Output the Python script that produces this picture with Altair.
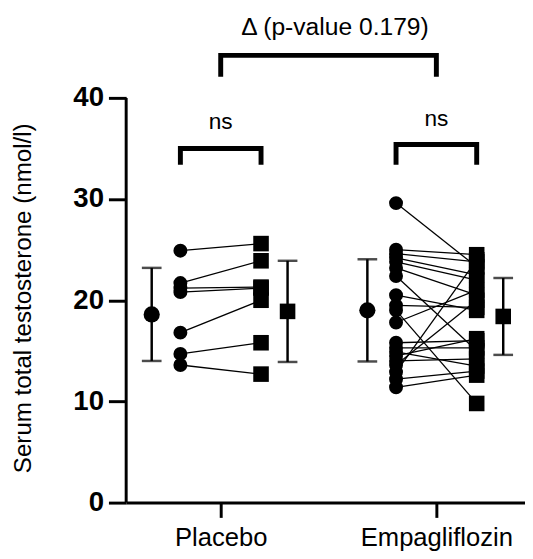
import altair as alt
import pandas as pd

FONT = "Liberation Sans, Arial, sans-serif"

# ---- data ----
groups = ["Placebo", "Empagliflozin"]
placebo_pre = [24.9, 21.7, 21.2, 20.8, 16.8, 14.7, 13.6]
placebo_post = [25.6, 23.9, 21.3, 21.2, 20.0, 15.8, 12.7]
empa_pre = [29.6, 25.0, 24.6, 24.2, 23.8, 23.2, 22.4, 20.5, 19.5, 19.0,
            17.8, 15.8, 15.3, 14.9, 14.5, 14.0, 13.6, 12.9, 12.2, 11.4]
empa_post = [23.3, 24.5, 23.8, 22.5, 22.0, 20.5, 15.0, 19.0, 19.3, 9.8,
             21.0, 16.0, 15.3, 13.5, 16.2, 14.2, 20.0, 24.0, 13.0, 12.6]
mean_pre = [18.6, 19.0]
sd_pre = [4.6, 5.05]
mean_post = [18.9, 18.4]
sd_post = [5.0, 3.8]
y_ticks = [0, 10, 20, 30, 40]
ns_labels = ["ns", "ns"]
delta_label = "\u0394 (p-value 0.179)"

# annotation levels (y units)
big_bracket = [44.2, 42.1]          # top, leg end
small_brackets_top = [35.0, 35.4]
small_brackets_leg = [33.4, 33.4]
ns_level = [37.6, 37.9]
delta_level = 47.0
delta_pos = 0.53

# slot offsets within each group (group units)
slot = {"mean_pre": -0.32, "pre": -0.187, "post": 0.187, "mean_post": 0.31}

# ---- build tables ----
rows = []
pairs = [(placebo_pre, placebo_post), (empa_pre, empa_post)]
for gi, (pre, post) in enumerate(pairs):
    for si, (a, b) in enumerate(zip(pre, post)):
        sid = f"{groups[gi]}_{si}"
        rows.append({"group": groups[gi], "sid": sid, "time": "pre", "x": gi + slot["pre"], "value": a})
        rows.append({"group": groups[gi], "sid": sid, "time": "post", "x": gi + slot["post"], "value": b})
df = pd.DataFrame(rows)

mrows = []
for gi in range(2):
    mrows.append({"time": "pre", "x": gi + slot["mean_pre"], "mean": mean_pre[gi],
                  "lo": mean_pre[gi] - sd_pre[gi], "hi": mean_pre[gi] + sd_pre[gi]})
    mrows.append({"time": "post", "x": gi + slot["mean_post"], "mean": mean_post[gi],
                  "lo": mean_post[gi] - sd_post[gi], "hi": mean_post[gi] + sd_post[gi]})
mdf = pd.DataFrame(mrows)

brows = []
def add_bracket(bid, x0, x1, top, leg):
    for k, (xx, yy) in enumerate([(x0, leg), (x0, top), (x1, top), (x1, leg)]):
        brows.append({"bid": bid, "k": k, "x": xx, "y": yy})
add_bracket("big", 0, 1, big_bracket[0], big_bracket[1])
for gi in range(2):
    add_bracket(f"s{gi}", gi + slot["pre"], gi + slot["post"], small_brackets_top[gi], small_brackets_leg[gi])
bdf = pd.DataFrame(brows)

ns_df = pd.DataFrame([{"x": gi, "y": ns_level[gi], "label": ns_labels[gi]} for gi in range(2)])
delta_df = pd.DataFrame([{"x": delta_pos, "y": delta_level, "label": delta_label}])
axdf = pd.DataFrame({"y0": [y_ticks[0]], "y1": [y_ticks[-1]]})

# ---- scales / axes ----
xscale = alt.Scale(domain=[-0.4384, 1.411], nice=False, zero=False)
yscale = alt.Scale(domain=[0, 48.47], nice=False, zero=True)
label_expr = "['" + "','".join(groups) + "'][datum.value]"
xaxis = alt.Axis(values=[0, 1], labelExpr=label_expr, title=None, labelFont=FONT,
                 labelFontSize=26, labelColor="black", labelPadding=8,
                 tickSize=15, tickWidth=3, tickColor="black",
                 domain=True, domainWidth=3, domainColor="black", grid=False)
yaxis = alt.Axis(values=y_ticks, title="Serum total testosterone (nmol/l)",
                 titleFont=FONT, titleFontSize=24.5, titleFontWeight="normal",
                 titleColor="black", titleX=-104, titleY=290,
                 titleBaseline="middle", titleAlign="center", titleAngle=270,
                 labelFont=FONT, labelFontSize=28, labelFontWeight="bold",
                 labelColor="black", labelPadding=5,
                 tickSize=18, tickWidth=3, tickColor="black",
                 domain=False, grid=False)

def X(f):
    return alt.X(f, type="quantitative", scale=xscale, axis=xaxis)

def Y(f):
    return alt.Y(f, type="quantitative", scale=yscale, axis=yaxis)

base = alt.Chart(df)

lines = base.mark_line(color="black", strokeWidth=1.3).encode(
    x=X("x"), y=Y("value"), detail="sid:N")
pre_pts = base.transform_filter(alt.datum.time == "pre").mark_point(
    shape="circle", filled=True, color="black", size=200, opacity=1).encode(x=X("x"), y=Y("value"))
post_pts = base.transform_filter(alt.datum.time == "post").mark_point(
    shape="square", filled=True, color="black", size=250, opacity=1).encode(x=X("x"), y=Y("value"))

mbase = alt.Chart(mdf)
err = mbase.mark_rule(color="black", strokeWidth=2.5).encode(x=X("x"), y=Y("lo"), y2="hi")
cap_lo = mbase.mark_tick(orient="horizontal", color="black", size=20, thickness=2.5).encode(
    x=X("x"), y=Y("lo"))
cap_hi = mbase.mark_tick(orient="horizontal", color="black", size=20, thickness=2.5).encode(
    x=X("x"), y=Y("hi"))
mean_c = mbase.transform_filter(alt.datum.time == "pre").mark_point(
    shape="circle", filled=True, color="black", size=270, opacity=1).encode(x=X("x"), y=Y("mean"))
mean_s = mbase.transform_filter(alt.datum.time == "post").mark_point(
    shape="square", filled=True, color="black", size=250, opacity=1).encode(x=X("x"), y=Y("mean"))

brackets = alt.Chart(bdf).mark_line(color="black", strokeWidth=5, strokeJoin="miter",
                                    strokeCap="butt").encode(
    x=X("x"), y=Y("y"), detail="bid:N", order="k:Q")

ns_text = alt.Chart(ns_df).mark_text(font=FONT, fontSize=23, color="black",
                                     baseline="middle", align="center").encode(
    x=X("x"), y=Y("y"), text="label:N")
delta_text = alt.Chart(delta_df).mark_text(font=FONT, fontSize=25, color="black",
                                           baseline="middle", align="center").encode(
    x=X("x"), y=Y("y"), text="label:N")

yline = alt.Chart(axdf).mark_rule(color="black", strokeWidth=3).encode(
    x=alt.value(0), y=Y("y0"), y2="y1")

chart = alt.layer(
    lines, err, cap_lo, cap_hi, mean_c, mean_s, pre_pts, post_pts, brackets,
    ns_text, delta_text, yline
).properties(
    width=405, height=498,
    autosize=alt.AutoSizeParams(type="none"),
    padding={"left": 120, "top": 0, "right": 0, "bottom": 53},
    background="white",
).configure_view(stroke=None)

chart.save("out.html", embed_options={"renderer": "svg", "actions": False})
